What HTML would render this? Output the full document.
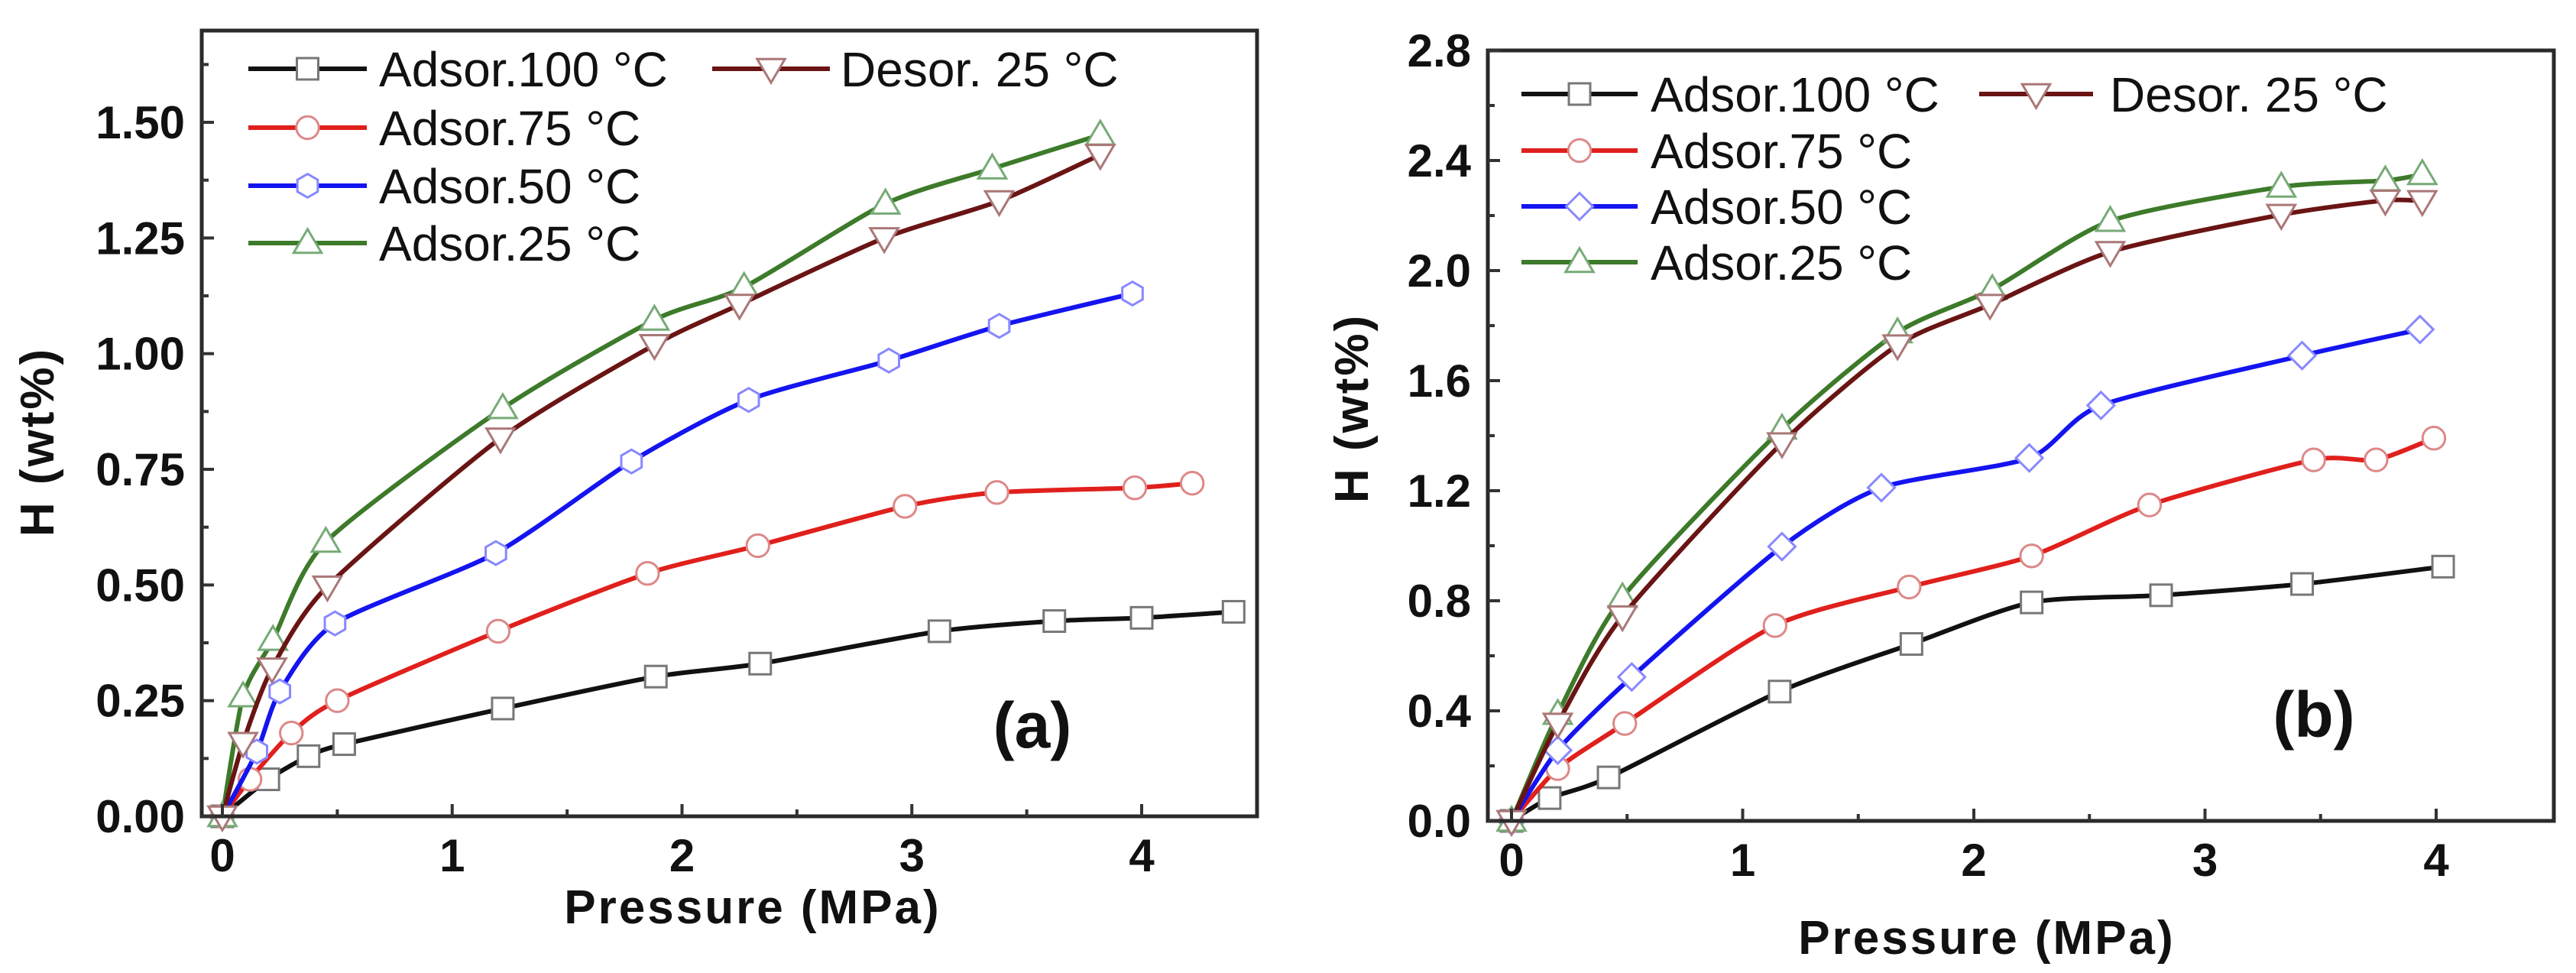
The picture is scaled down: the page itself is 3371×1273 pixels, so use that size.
<!DOCTYPE html>
<html><head><meta charset="utf-8"><style>
html,body{margin:0;padding:0;background:#fff}
svg{display:block}
text{font-family:"Liberation Sans",sans-serif}
</style></head><body>
<svg id="fig" xmlns="http://www.w3.org/2000/svg" width="3371" height="1273" viewBox="0 0 3371 1273"></svg>
<script>
// ---------- Panel (a) data ----------
const aX100=[0,0.2,0.375,0.53,1.22,1.886,2.34,3.12,3.62,4.0,4.40];
const aY100=[0,0.08,0.13,0.156,0.233,0.302,0.33,0.40,0.422,0.429,0.442];
const aX75=[0,0.12,0.30,0.5,1.2,1.85,2.33,2.97,3.37,3.97,4.22];
const aY75=[0,0.08,0.18,0.25,0.40,0.525,0.585,0.67,0.70,0.71,0.72];
const aX50=[0,0.15,0.25,0.49,1.19,1.78,2.29,2.9,3.38,3.96];
const aY50=[0,0.14,0.27,0.417,0.569,0.767,0.90,0.985,1.06,1.13];
const aXd25=[0,0.09,0.216,0.457,1.21,1.88,2.25,2.88,3.38,3.82];
const aYd25=[0,0.159,0.32,0.497,0.817,1.019,1.106,1.25,1.33,1.43];
const aX25=[0,0.09,0.22,0.45,1.22,1.88,2.27,2.885,3.35,3.82];
const aY25=[0,0.259,0.381,0.593,0.882,1.073,1.144,1.324,1.40,1.473];
const aYTicks=["0.00","0.25","0.50","0.75","1.00","1.25","1.50"];
const aXTicks=["0","1","2","3","4"];
// ---------- Panel (b) data ----------
const bX100=[0,0.165,0.42,1.16,1.73,2.25,2.81,3.42,4.03];
const bY100=[0,0.083,0.158,0.47,0.643,0.794,0.82,0.861,0.924];
const bX75=[0,0.2,0.49,1.14,1.72,2.25,2.76,3.47,3.74,3.99];
const bY75=[0,0.19,0.354,0.71,0.85,0.963,1.148,1.312,1.312,1.391];
const bX50=[0,0.2,0.52,1.17,1.60,2.24,2.55,3.42,3.93];
const bY50=[0,0.257,0.523,0.997,1.211,1.319,1.51,1.691,1.786];
const bXd25=[0,0.2,0.48,1.17,1.67,2.07,2.59,3.33,3.78,3.94];
const bYd25=[0,0.354,0.744,1.373,1.729,1.876,2.068,2.203,2.255,2.253];
const bX25=[0,0.2,0.48,1.17,1.67,2.08,2.59,3.33,3.78,3.94];
const bY25=[0,0.388,0.812,1.425,1.775,1.932,2.18,2.304,2.327,2.35];
const bYTicks=["0.0","0.4","0.8","1.2","1.6","2.0","2.4","2.8"];
const bXTicks=["0","1","2","3","4"];

const NS="http://www.w3.org/2000/svg";
const svg=document.getElementById('fig');
function mk(tag,attrs,parent){const e=document.createElementNS(NS,tag);for(const k in attrs)e.setAttribute(k,attrs[k]);(parent||svg).appendChild(e);return e;}

function smooth(pts){
  if(pts.length<2)return "";
  let d="M"+pts[0][0]+","+pts[0][1];
  for(let i=0;i<pts.length-1;i++){
    const p0=pts[Math.max(0,i-1)],p1=pts[i],p2=pts[i+1],p3=pts[Math.min(pts.length-1,i+2)];
    const t=0.12;
    const c1x=p1[0]+(p2[0]-p0[0])*t,c1y=p1[1]+(p2[1]-p0[1])*t;
    const c2x=p2[0]-(p3[0]-p1[0])*t,c2y=p2[1]-(p3[1]-p1[1])*t;
    d+=" C"+c1x+","+c1y+" "+c2x+","+c2y+" "+p2[0]+","+p2[1];
  }
  return d;
}
function marker(g,type,cx,cy,s){
  let e;
  const st={fill:"#fff",stroke:"#777","stroke-width":3};
  if(type==="square"){e=mk("rect",Object.assign({x:cx-s,y:cy-s,width:2*s,height:2*s},st),g);}
  else if(type==="circle"){e=mk("circle",Object.assign({cx:cx,cy:cy,r:s*1.05},st),g);e.setAttribute('stroke','#d88');}
  else if(type==="hex"){const r=s*1.1;let p=[];for(let k=0;k<6;k++){const a=Math.PI/6+k*Math.PI/3;p.push((cx+r*Math.cos(a))+","+(cy+r*Math.sin(a)));}e=mk("polygon",Object.assign({points:p.join(" ")},st),g);e.setAttribute('stroke','#88f');}
  else if(type==="diamond"){const r=s*1.25;e=mk("polygon",Object.assign({points:`${cx},${cy-r} ${cx+r},${cy} ${cx},${cy+r} ${cx-r},${cy}`},st),g);e.setAttribute('stroke','#88f');}
  else if(type==="tdown"){const r=s*1.3;e=mk("polygon",Object.assign({points:`${cx-r},${cy-r*0.7} ${cx+r},${cy-r*0.7} ${cx},${cy+r}`},st),g);e.setAttribute('stroke','#a77');}
  else if(type==="tup"){const r=s*1.3;e=mk("polygon",Object.assign({points:`${cx-r},${cy+r*0.7} ${cx+r},${cy+r*0.7} ${cx},${cy-r}`},st),g);e.setAttribute('stroke','#7a7');}
  return e;
}

function panel(cfg){
  const g=mk("g",{});
  
  
  const X=v=>cfg.x0+v*cfg.xs, Y=v=>cfg.y0-v*cfg.ys;
  cfg.series.forEach(s=>{
    const sg=mk("g",{},g);
    
    
    const pts=s.x.map((v,i)=>[X(v),Y(s.y[i])]);
    const p=mk("path",{d:smooth(pts),fill:"none",stroke:s.color,"stroke-width":6,"stroke-linejoin":"round"},sg);
    
    
    pts.forEach(pt=>{const m=marker(sg,s.m,pt[0],pt[1],14);
      
      });
  });
  const box=mk("rect",{x:cfg.L,y:cfg.T,width:cfg.R-cfg.L,height:cfg.B-cfg.T,fill:"none",stroke:"#2a2a2a","stroke-width":5},g);
  
  
  cfg.yt.forEach((lab,i)=>{
    const v=i*cfg.ystep,y=Y(v);
    mk("line",{x1:cfg.L,x2:cfg.L+16,y1:y,y2:y,stroke:"#333","stroke-width":4},g);
    const t=mk("text",{x:cfg.L-22,y:y+21,"text-anchor":"end","font-size":60,"font-weight":"bold",fill:"#111"},g);
    t.textContent=lab;
    
    
    const vm=v+cfg.ystep/2,ym=Y(vm);
    if(ym>cfg.T+4)mk("line",{x1:cfg.L,x2:cfg.L+9,y1:ym,y2:ym,stroke:"#333","stroke-width":4},g);
  });
  cfg.xt.forEach((lab,i)=>{
    const x=X(i);
    mk("line",{x1:x,x2:x,y1:cfg.B,y2:cfg.B-16,stroke:"#333","stroke-width":4},g);
    const t=mk("text",{x:x,y:cfg.B+72,"text-anchor":"middle","font-size":60,"font-weight":"bold",fill:"#111"},g);
    t.textContent=lab;
    
    
    const xm=X(i+0.5);
    if(xm<cfg.R-4)mk("line",{x1:xm,x2:xm,y1:cfg.B,y2:cfg.B-9,stroke:"#333","stroke-width":4},g);
  });
  const xt=mk("text",{x:cfg.xtx,y:cfg.xty,"text-anchor":"middle","font-size":62,"font-weight":"bold",fill:"#111","letter-spacing":3},g);
  xt.textContent="Pressure (MPa)";
  
  
  const yt=mk("text",{x:0,y:0,transform:`translate(${cfg.ytx},${cfg.yty}) rotate(-90)`,"text-anchor":"middle","font-size":62,"font-weight":"bold",fill:"#111","letter-spacing":3},g);
  yt.textContent="H (wt%)";
  
  
  const pl=mk("text",{x:cfg.lx,y:cfg.ly,"text-anchor":"middle","font-size":84,"font-weight":"bold",fill:"#111","font-family":"Liberation Serif, serif"},g);
  pl.textContent=cfg.letter;
  
  
  cfg.legend.forEach(e=>{
    const lg=mk("g",{},g);
    
    
    mk("line",{x1:e.x1,x2:e.x2,y1:e.y,y2:e.y,stroke:e.s.color,"stroke-width":6},lg);
    marker(lg,e.s.m,(e.x1+e.x2)/2,e.y,14);
    const t=mk("text",{x:e.tx,y:e.y+23,"font-size":64,fill:"#111"},lg);
    t.textContent=e.label;
  });
}

const C={k:"#111111",r:"#e0201c",b:"#1414f0",g:"#3d7a2a",d:"#6a1414"};
(function(){
  const S100={id:"adsor-100",x:aX100,y:aY100,color:C.k,m:"square"};
  const S75={id:"adsor-75",x:aX75,y:aY75,color:C.r,m:"circle"};
  const S50={id:"adsor-50",x:aX50,y:aY50,color:C.b,m:"hex"};
  const Sd={id:"desor-25",x:aXd25,y:aYd25,color:C.d,m:"tdown"};
  const S25={id:"adsor-25",x:aX25,y:aY25,color:C.g,m:"tup"};
  panel({name:"panel-a",L:264,R:1645,T:40,B:1068,x0:291,xs:300.75,y0:1068,ys:605.3,ystep:0.25,
    yt:aYTicks,xt:aXTicks,series:[S100,S75,S50,S25,Sd],
    xtx:985,xty:1208,ytx:70,yty:578,letter:"(a)",lx:1351,ly:978,
    legend:[
      {s:S100,x1:325,x2:480,y:90,tx:496,label:"Adsor.100 °C"},
      {s:S75,x1:325,x2:480,y:167,tx:496,label:"Adsor.75 °C"},
      {s:S50,x1:325,x2:480,y:243,tx:496,label:"Adsor.50 °C"},
      {s:S25,x1:325,x2:480,y:318,tx:496,label:"Adsor.25 °C"},
      {s:Sd,x1:932,x2:1086,y:90,tx:1100,label:"Desor. 25 °C"}
    ]});
})();
(function(){
  const S100={id:"adsor-100",x:bX100,y:bY100,color:C.k,m:"square"};
  const S75={id:"adsor-75",x:bX75,y:bY75,color:C.r,m:"circle"};
  const S50={id:"adsor-50",x:bX50,y:bY50,color:C.b,m:"diamond"};
  const Sd={id:"desor-25",x:bXd25,y:bYd25,color:C.d,m:"tdown"};
  const S25={id:"adsor-25",x:bX25,y:bY25,color:C.g,m:"tup"};
  panel({name:"panel-b",L:1947,R:3342,T:66,B:1074,x0:1978,xs:302.5,y0:1074,ys:360,ystep:0.4,
    yt:bYTicks,xt:bXTicks,series:[S100,S75,S50,S25,Sd],
    xtx:2600,xty:1248,ytx:1790,yty:534,letter:"(b)",lx:3028,ly:964,
    legend:[
      {s:S100,x1:1991,x2:2143,y:123,tx:2160,label:"Adsor.100 °C"},
      {s:S75,x1:1991,x2:2143,y:197,tx:2160,label:"Adsor.75 °C"},
      {s:S50,x1:1991,x2:2143,y:270,tx:2160,label:"Adsor.50 °C"},
      {s:S25,x1:1991,x2:2143,y:343,tx:2160,label:"Adsor.25 °C"},
      {s:Sd,x1:2590,x2:2739,y:123,tx:2761,label:"Desor. 25 °C"}
    ]});
})();
</script>
</body></html>
